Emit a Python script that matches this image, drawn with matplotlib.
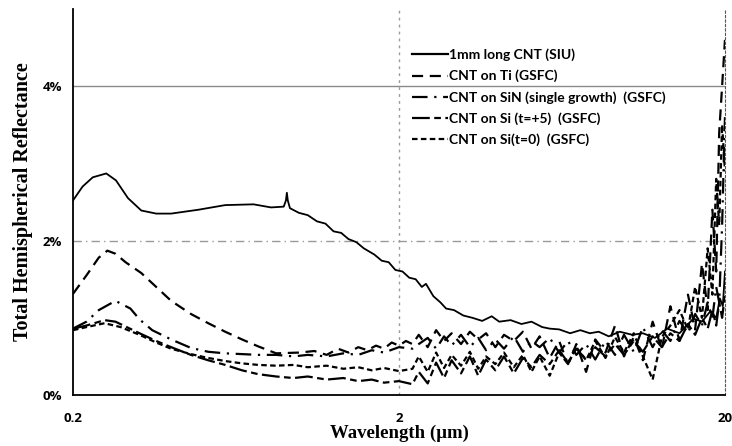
"""
    Total hemispherical reflectance of several CNT coatings vs wavelength.
"""
import matplotlib
matplotlib.use("Agg")
import matplotlib.pyplot as plt
from matplotlib.ticker import FixedLocator, NullLocator

# --- data (wavelength in um, reflectance in %) ---
wl_siu = [0.2, 0.214, 0.23, 0.253, 0.271, 0.295, 0.324, 0.36, 0.40, 0.485,
          0.586, 0.716, 0.81, 0.886, 0.9, 0.906, 0.912, 0.926, 0.986, 1.05,
          1.12, 1.19, 1.26, 1.33, 1.40, 1.48, 1.56, 1.68, 1.77, 1.86,
          1.95, 2.05, 2.15, 2.25, 2.35, 2.42, 2.55, 2.68, 2.79, 2.95,
          3.15, 3.36, 3.6, 3.85, 4.06, 4.4, 4.75, 5.1, 5.5, 5.8,
          6.2, 6.7, 7.2, 7.7, 8.2, 8.8, 9.5, 10.4, 11.2, 12.2,
          13.3, 14.5, 16.0, 17.0, 18.0, 18.8, 19.3, 19.7, 20.0]
refl_siu = [2.52, 2.70, 2.82, 2.87, 2.78, 2.55, 2.39, 2.35, 2.35, 2.40,
            2.46, 2.47, 2.43, 2.44, 2.52, 2.62, 2.52, 2.42, 2.36, 2.33,
            2.25, 2.22, 2.12, 2.10, 2.02, 1.98, 1.90, 1.82, 1.74, 1.72,
            1.62, 1.60, 1.52, 1.50, 1.40, 1.44, 1.28, 1.20, 1.12, 1.10,
            1.03, 1.00, 0.96, 1.02, 0.95, 0.97, 0.92, 0.95, 0.88, 0.86,
            0.85, 0.80, 0.84, 0.80, 0.82, 0.76, 0.82, 0.78, 0.80, 0.74,
            0.86, 0.80, 0.99, 0.95, 1.08, 1.00, 1.25, 1.15, 1.60]

# shared wavelength grid for the noisy infrared part of the GSFC curves
wl_ir = [2.3, 2.45, 2.6, 2.75, 2.9, 3.1, 3.3, 3.5, 3.7, 3.95,
         4.2, 4.5, 4.8, 5.1, 5.4, 5.8, 6.2, 6.6, 7.0, 7.5,
         8.0, 8.6, 9.2, 9.8, 10.5, 11.2, 12.0, 12.8, 13.6, 14.5,
         15.4, 16.2, 17.0, 17.7, 18.3, 18.8, 19.2, 19.6, 20.0]

wl_ti = [0.2, 0.22, 0.24, 0.255, 0.27, 0.29, 0.324, 0.36, 0.40, 0.46,
         0.52, 0.586, 0.66, 0.74, 0.84, 0.99, 1.1, 1.2, 1.3, 1.4,
         1.5, 1.6, 1.7, 1.8, 1.9, 2.0, 2.1, 2.2]
refl_ti = [1.31, 1.55, 1.78, 1.87, 1.83, 1.72, 1.58, 1.40, 1.22, 1.05,
           0.93, 0.82, 0.72, 0.63, 0.54, 0.55, 0.57, 0.52, 0.60, 0.55,
           0.62, 0.58, 0.64, 0.60, 0.68, 0.64, 0.70, 0.66]
refl_ti_ir = [0.78, 0.62, 0.84, 0.70, 0.80, 0.66, 0.82, 0.72, 0.80, 0.62,
              0.78, 0.70, 0.82, 0.60, 0.76, 0.48, 0.70, 0.40, 0.66, 0.30,
              0.72, 0.55, 0.90, 0.50, 0.75, 0.45, 0.95, 0.60, 1.15, 0.70,
              1.30, 0.85, 1.70, 1.10, 2.40, 1.60, 3.40, 4.00, 4.60]

wl_sin = [0.2, 0.22, 0.24, 0.27, 0.30, 0.32, 0.35, 0.40, 0.46, 0.52,
          0.586, 0.66, 0.74, 0.84, 0.95, 1.05, 1.2, 1.35, 1.5, 1.65,
          1.8, 2.0, 2.2]
refl_sin = [0.86, 0.95, 1.10, 1.22, 1.12, 0.98, 0.84, 0.72, 0.61, 0.56,
            0.54, 0.53, 0.52, 0.52, 0.50, 0.52, 0.50, 0.54, 0.52, 0.58,
            0.55, 0.62, 0.60]
refl_sin_ir = [0.66, 0.74, 0.60, 0.76, 0.64, 0.78, 0.62, 0.74, 0.58, 0.72,
               0.60, 0.76, 0.56, 0.70, 0.62, 0.74, 0.55, 0.70, 0.52, 0.66,
               0.46, 0.70, 0.52, 0.78, 0.56, 0.88, 0.62, 0.84, 0.70, 0.96,
               0.80, 1.05, 0.90, 1.20, 1.00, 1.40, 1.20, 2.20, 3.60]

wl_si5 = [0.2, 0.22, 0.25, 0.27, 0.32, 0.36, 0.40, 0.46, 0.52, 0.586,
          0.66, 0.74, 0.84, 0.95, 1.05, 1.2, 1.35, 1.5, 1.65, 1.8,
          2.0, 2.2]
refl_si5 = [0.86, 0.90, 0.97, 0.95, 0.80, 0.70, 0.62, 0.52, 0.45, 0.39,
            0.32, 0.27, 0.24, 0.22, 0.24, 0.20, 0.22, 0.18, 0.20, 0.16,
            0.18, 0.14]
refl_si5_ir = [0.30, 0.15, 0.42, 0.22, 0.45, 0.28, 0.50, 0.25, 0.46, 0.32,
               0.50, 0.28, 0.48, 0.36, 0.52, 0.40, 0.58, 0.42, 0.60, 0.46,
               0.62, 0.50, 0.66, 0.52, 0.70, 0.56, 0.76, 0.62, 0.80, 0.70,
               0.92, 0.78, 1.00, 0.86, 1.10, 0.90, 1.20, 1.00, 1.30]

wl_si0 = [0.2, 0.22, 0.25, 0.28, 0.32, 0.36, 0.40, 0.46, 0.52, 0.586,
          0.66, 0.74, 0.84, 0.95, 1.05, 1.2, 1.35, 1.5, 1.65, 1.8,
          2.0, 2.2]
refl_si0 = [0.84, 0.88, 0.93, 0.88, 0.78, 0.68, 0.60, 0.53, 0.48, 0.44,
            0.41, 0.39, 0.38, 0.39, 0.36, 0.38, 0.34, 0.36, 0.32, 0.35,
            0.31, 0.34]
refl_si0_ir = [0.50, 0.30, 0.55, 0.35, 0.52, 0.38, 0.56, 0.34, 0.50, 0.40,
               0.55, 0.36, 0.52, 0.30, 0.50, 0.25, 0.55, 0.40, 0.62, 0.45,
               0.70, 0.48, 0.75, 0.55, 0.80, 0.50, 0.20, 0.75, 0.90, 1.10,
               0.85, 1.40, 1.00, 1.90, 1.30, 2.80, 2.20, 3.50, 2.90]

labels = ["1mm long CNT (SIU)", "CNT on Ti (GSFC)",
          "CNT on SiN (single growth)  (GSFC)", "CNT on Si (t=+5)  (GSFC)",
          "CNT on Si(t=0)  (GSFC)"]
x_ticks = [0.2, 2, 20]
x_ticklabels = ["0.2", "2", "20"]
y_ticks = [0, 2, 4]
y_ticklabels = ["0%", "2%", "4%"]


def main():
    fig = plt.figure(figsize=(7.32, 4.46), dpi=100)
    ax = fig.add_axes([0.0997, 0.1143, 0.8907, 0.8655])

    ax.set_xscale("log")
    ax.set_xlim(0.2, 20)
    ax.set_ylim(0, 5)

    # grid lines as on the scan
    ax.axhline(4, color="#8a8a8a", lw=1.0, zorder=1)
    ax.axhline(2, color="#9a9a9a", lw=1.0, ls=(0, (6, 3, 1, 3)), zorder=1)
    ax.axvline(2, color="#9a9a9a", lw=1.0, ls=(0, (2, 3)), zorder=1)

    lw = 1.6
    ax.plot(wl_siu, refl_siu, color="black", lw=1.3, ls="-", label=labels[0])
    ax.plot(wl_ti + wl_ir, refl_ti + refl_ti_ir, color="black", lw=lw,
            ls=(0, (5, 3)), label=labels[1])
    ax.plot(wl_sin + wl_ir, refl_sin + refl_sin_ir, color="black", lw=lw,
            ls=(0, (7, 3, 1, 3)), label=labels[2])
    ax.plot(wl_si5 + wl_ir, refl_si5 + refl_si5_ir, color="black", lw=lw,
            ls=(0, (8, 2, 3, 2)), label=labels[3])
    ax.plot(wl_si0 + wl_ir, refl_si0 + refl_si0_ir, color="black", lw=lw,
            ls=(0, (2.5, 1.5)), label=labels[4])

    ax.xaxis.set_major_locator(FixedLocator(x_ticks))
    ax.xaxis.set_minor_locator(NullLocator())
    ax.set_xticklabels(x_ticklabels)
    ax.set_yticks(y_ticks)
    ax.set_yticklabels(y_ticklabels)
    ax.tick_params(length=0, labelsize=9.5)
    ax.tick_params(axis="y", pad=8)
    ax.tick_params(axis="x", pad=12)
    for lab in ax.get_xticklabels() + ax.get_yticklabels():
        lab.set_fontweight("bold")
        lab.set_family("Open Sans")

    ax.spines["top"].set_visible(False)
    ax.spines["right"].set_linestyle((0, (2, 2)))
    ax.spines["right"].set_color("#555555")
    for side in ("left", "bottom"):
        ax.spines[side].set_linewidth(1.3)

    ax.set_xlabel("Wavelength (\u00b5m)", family="Liberation Serif",
                  fontweight="bold", fontsize=13.5, labelpad=0)
    ax.set_ylabel("Total Hemispherical Reflectance", family="Liberation Serif",
                  fontweight="bold", fontsize=14.5, labelpad=7)

    leg = ax.legend(loc="upper left", bbox_to_anchor=(0.511, 0.912),
                    borderaxespad=0, frameon=False, handlelength=2.6,
                    handletextpad=0.1, labelspacing=0.62,
                    prop={"family": "Lato", "weight": "bold", "size": 10})
    for line in leg.get_lines():
        line.set_linewidth(1.6)

    fig.savefig("out.png", dpi=100, facecolor="white")


if __name__ == "__main__":
    main()
